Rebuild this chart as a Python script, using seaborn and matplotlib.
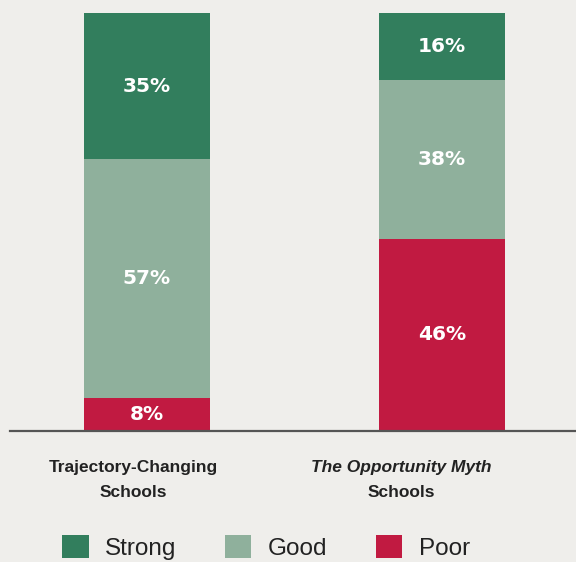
import pandas as pd
import seaborn as sns
import matplotlib.pyplot as plt

# Data
schools = ["Trajectory-Changing", "The Opportunity Myth"]
ratings = ["Strong", "Good", "Poor"]
strong = [35, 16]
good = [57, 38]
poor = [8, 46]

colors = {"Strong": "#327E5D", "Good": "#8FB09C", "Poor": "#C11A41"}
bg = "#EFEEEB"

# long-form table with cumulative heights (drawn back to front)
rows = []
for i, s in enumerate(schools):
    rows.append({"school": s, "rating": "Strong", "value": strong[i], "cum": poor[i] + good[i] + strong[i]})
    rows.append({"school": s, "rating": "Good", "value": good[i], "cum": poor[i] + good[i]})
    rows.append({"school": s, "rating": "Poor", "value": poor[i], "cum": poor[i]})
df = pd.DataFrame(rows)

sns.set_style("white")
plt.rcParams["font.family"] = ["Liberation Sans", "DejaVu Sans"]

fig = plt.figure(figsize=(5.76, 5.62), dpi=100, facecolor=bg)
ax = fig.add_axes([10 / 576, 131 / 562, 566 / 576, 418 / 562])
ax.set_facecolor(bg)

sns.barplot(data=df, x="school", y="cum", hue="rating", hue_order=ratings,
            order=schools, palette=colors, dodge=False, width=0.427,
            saturation=1, linewidth=0, ax=ax)

ax.set_ylim(0, 100)
ax.set_xlim(-0.464, 1.454)
ax.set_xlabel("")
ax.set_ylabel("")
ax.set_xticks([])
ax.set_yticks([])
for side in ["top", "left", "right"]:
    ax.spines[side].set_visible(False)
ax.spines["bottom"].set_color("#555555")
ax.spines["bottom"].set_linewidth(1.6)

# segment labels
for i in range(len(schools)):
    base = 0
    for val in [poor[i], good[i], strong[i]]:
        ax.text(i, base + val / 2, f"{val}%", ha="center", va="center",
                color="white", fontsize=14.5, fontweight="bold",
                family="DejaVu Sans")
        base += val

# category labels
trans = ax.get_xaxis_transform()
lab = dict(transform=trans, ha="center", va="center", fontsize=12.5,
           fontweight="bold", color="#222222")
ax.text(0 - 0.047, -0.088, "Trajectory-Changing", **lab)
ax.text(0 - 0.047, -0.148, "Schools", **lab)
ax.text(1 - 0.139, -0.088, "The Opportunity Myth", style="italic", **lab)
ax.text(1 - 0.139, -0.148, "Schools", **lab)

sns.move_legend(ax, "center", bbox_to_anchor=(0.462, 0.026),
                bbox_transform=fig.transFigure, ncol=3, frameon=False,
                title=None, fontsize=17.5, handlelength=1.08, handleheight=1.08,
                handletextpad=0.68, columnspacing=2.0)
for t in ax.get_legend().get_texts():
    t.set_color("#222222")

fig.savefig("out.png", dpi=100, facecolor=bg)
